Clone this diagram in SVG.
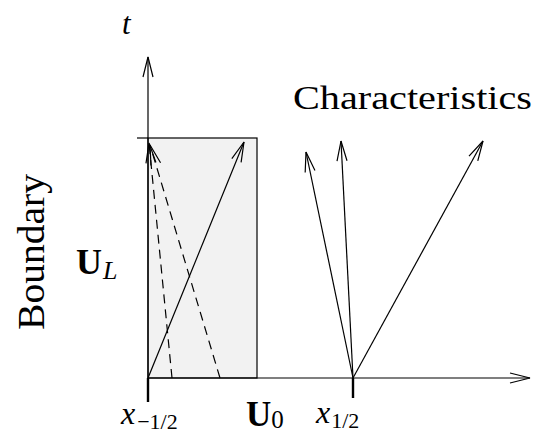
<svg xmlns="http://www.w3.org/2000/svg" width="537" height="436" viewBox="0 0 537 436">
<style>
.ln{stroke:#000;stroke-width:1.2;fill:none}
.ar{marker-end:url(#ah)}
.ds{stroke-dasharray:9,6}
.tx{font-family:"Liberation Serif","DejaVu Serif",serif;fill:#000}
.it{font-style:italic}
.bd{font-weight:bold}
</style>
<defs>
<marker id="ah" markerUnits="userSpaceOnUse" markerWidth="24" markerHeight="14" viewBox="-22 -7 24 14" refX="0" refY="0" orient="auto">
<path d="M-20,-5 L0,0 L-20,5" fill="none" stroke="#000" stroke-width="1.2"/>
</marker>
</defs>
<rect width="537" height="436" fill="#fff"/>
<g id="cell">
<rect x="148" y="138" width="109" height="240" fill="#f2f2f2" stroke="#000" stroke-width="1.2"/>
<line x1="137" y1="138" x2="148" y2="138" class="ln"/>
</g>
<g id="axes">
<line x1="148" y1="378" x2="148" y2="57" class="ln ar"/>
<line x1="148" y1="378" x2="530" y2="378" class="ln ar"/>
<line x1="148" y1="378" x2="148" y2="402" stroke="#000" stroke-width="2.4"/>
<line x1="353" y1="378" x2="353" y2="398" stroke="#000" stroke-width="2.4"/>
</g>
<g id="connectors">
<line x1="148" y1="378" x2="244" y2="142" class="ln ar"/>
<line x1="172" y1="378" x2="149" y2="143" class="ln ds ar"/>
<line x1="220" y1="378" x2="150" y2="145" class="ln ds ar"/>
<line x1="353" y1="378" x2="306" y2="152" class="ln ar"/>
<line x1="353" y1="378" x2="341" y2="141" class="ln ar"/>
<line x1="353" y1="378" x2="483" y2="141" class="ln ar"/>
</g>
<g id="labels">
<text x="122" y="34" class="tx it" font-size="31">t</text>
<text x="293" y="109" class="tx" font-size="33" textLength="239" lengthAdjust="spacingAndGlyphs">Characteristics</text>
<text transform="translate(44,330) rotate(-90)" class="tx" font-size="37" textLength="156" lengthAdjust="spacingAndGlyphs">Boundary</text>
<text x="76" y="274" class="tx bd" font-size="36">U<tspan class="it" font-weight="normal" font-size="26" dx="1" dy="5">L</tspan></text>
<text x="121" y="424" class="tx it" font-size="32">x<tspan font-size="22" font-style="normal" dx="2" dy="5">−1/2</tspan></text>
<text x="246" y="426" class="tx bd" font-size="35">U<tspan font-weight="normal" font-size="25" dy="2">0</tspan></text>
<text x="316" y="423" class="tx it" font-size="32">x<tspan font-size="22" font-style="normal" dx="1" dy="5">1/2</tspan></text>
</g>
</svg>
